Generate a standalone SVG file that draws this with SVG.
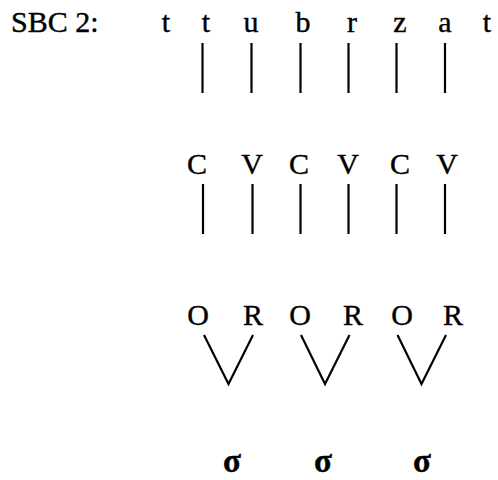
<svg xmlns="http://www.w3.org/2000/svg" width="498" height="480" viewBox="0 0 498 480">
<style>
text{font-family:"Liberation Serif","Times New Roman",serif;font-size:30px;fill:#000;stroke:#000;stroke-width:0.4;text-anchor:middle}
.lbl{text-anchor:start;font-size:30px}
.sig{font-weight:bold;font-size:33px;stroke-width:0.4}
.c line,.c polyline{stroke:#000;stroke-width:2.2;fill:none}
</style>
<rect width="498" height="480" fill="#fff"/>
<g id="label"><text class="lbl" x="11" y="32">SBC 2:</text></g>
<g id="segments">
<text x="166" y="32">t</text>
<text x="206" y="32">t</text>
<text x="251" y="32">u</text>
<text x="303" y="32">b</text>
<text x="352" y="32">r</text>
<text x="400" y="32">z</text>
<text x="445" y="32">a</text>
<text x="487" y="32">t</text>
</g>
<g id="cv">
<text x="197" y="174">C</text>
<text x="252" y="174">V</text>
<text x="299" y="174">C</text>
<text x="348" y="174">V</text>
<text x="400" y="174">C</text>
<text x="447" y="174">V</text>
</g>
<g id="or">
<text x="198" y="325">O</text>
<text x="253" y="325">R</text>
<text x="300" y="325">O</text>
<text x="353" y="325">R</text>
<text x="402" y="325">O</text>
<text x="453" y="325">R</text>
</g>
<g id="syllables">
<text class="sig" x="232" y="472">σ</text>
<text class="sig" x="323" y="472">σ</text>
<text class="sig" x="422" y="472">σ</text>
</g>
<g id="connectors" class="c">
<line x1="202.5" y1="43" x2="202.5" y2="93"/>
<line x1="251.5" y1="43" x2="251.5" y2="93"/>
<line x1="300.5" y1="43" x2="300.5" y2="93"/>
<line x1="348.5" y1="43" x2="348.5" y2="93"/>
<line x1="396.5" y1="43" x2="396.5" y2="93"/>
<line x1="445" y1="43" x2="445" y2="93"/>
<line x1="203" y1="184" x2="203" y2="234"/>
<line x1="252.5" y1="184" x2="252.5" y2="234"/>
<line x1="300.5" y1="184" x2="300.5" y2="234"/>
<line x1="348.5" y1="184" x2="348.5" y2="234"/>
<line x1="396.5" y1="184" x2="396.5" y2="234"/>
<line x1="445" y1="184" x2="445" y2="234"/>
<polyline points="204,335 228.5,384 253,335"/>
<polyline points="301,335 325,384 349.5,335"/>
<polyline points="397.5,335 421.5,384 446,335"/>
</g>
</svg>
